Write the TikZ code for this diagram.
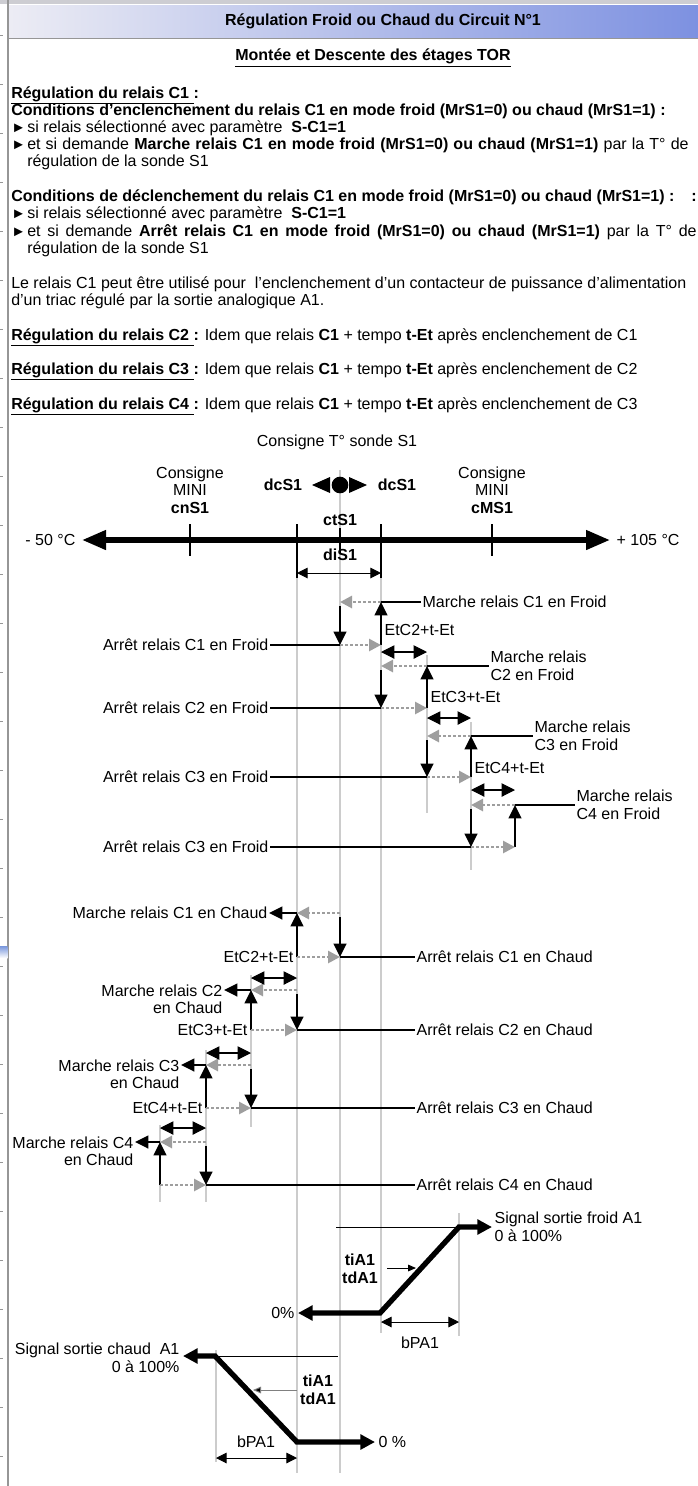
\documentclass[tikz,border=0pt]{standalone}
\usepackage{fontspec}
\setmainfont{Liberation Sans}
\usepackage{xcolor}
\usepackage{tikz}
\usetikzlibrary{positioning, arrows.meta}

\definecolor{refgray}{RGB}{204,204,204}
\definecolor{dotgray}{RGB}{158,158,158}
\definecolor{framegray}{RGB}{150,150,150}
\definecolor{topgray}{RGB}{205,205,210}
\definecolor{barlight}{RGB}{236,236,244}
\definecolor{barblue}{RGB}{125,145,225}
\definecolor{tabblue}{RGB}{120,150,220}

\newcommand{\puce}{\makebox[12pt][l]{\fontsize{11}{11}\selectfont ►}}

\begin{document}
\begin{tikzpicture}[x=0.75pt, y=-0.75pt,
  every node/.style={font=\fontsize{12}{13.2}\selectfont, inner sep=1pt},
  txt/.style={anchor=west, inner sep=0pt, text height=8.6pt, text depth=2.4pt},
  refline/.style={draw=refgray, line width=1.5pt},
  wire/.style={line width=1.7pt},
  stair/.style={line width=1.7pt, -{Triangle[length=10pt,width=9.5pt]}},
  grayarr/.style={draw=dotgray, line width=2pt, dash pattern=on 2.2pt off 1.6pt, -{Triangle[length=9pt,width=9pt]}},
  tempo/.style={line width=0.8pt, {Triangle[length=10pt,width=10pt]}-{Triangle[length=10pt,width=10pt]}},
  bparr/.style={line width=0.75pt, {Triangle[length=8pt,width=8pt]}-{Triangle[length=8pt,width=8pt]}},
  sig/.style={line width=4pt, line join=miter, {Triangle[length=11pt,width=11pt]}-{Triangle[length=11pt,width=11pt]}},
  fine/.style={line width=0.75pt}
]
  \useasboundingbox (0,0) rectangle (698,1486);
  \fill[white] (0,0) rectangle (698,1486);

  % bandeau et cadre
  \fill[topgray] (0,0) rectangle (698,4);
  \shade[left color=barlight, right color=barblue] (9,5) rectangle (698,38);
  \draw[framegray, line width=0.8pt] (9,38.5) -- (698,38.5);
  \draw[framegray, line width=1.2pt] (8,0) -- (8,1486);
  \foreach \t in {35,84,...,1480} \draw[framegray, line width=0.6pt] (0,\t) -- (3,\t);
  \shade[top color=tabblue, bottom color=white] (0,946) rectangle (7.4,958);

  % texte
  \node (ttl) at (383,21) {\textbf{Régulation Froid ou Chaud du Circuit N°1}};
  \node (sub) at (373,58) {\textbf{\underline{Montée et Descente des étages TOR}}};
  \node[txt] (r1) at (11,94) {\textbf{\underline{Régulation du relais C1~}:}};
  \node[txt] (c1) at (11,111) {\textbf{Conditions d’enclenchement du relais C1 en mode froid (MrS1=0) ou chaud (MrS1=1) :}};
  \node[txt] (b1) at (11,128) {\puce si relais sélectionné avec paramètre\ \ \textbf{S-C1=1}};
  \node[txt] (b2) at (11,145) {\makebox[508pt][s]{\puce et si demande \textbf{Marche relais C1 en mode froid (MrS1=0) ou chaud (MrS1=1)} par la T° de}};
  \node[txt] (b3) at (27,162) {régulation de la sonde S1};
  \node[txt] (c2) at (11,197) {\textbf{Conditions de déclenchement du relais C1 en mode froid (MrS1=0) ou chaud (MrS1=1) :}};
  \node[txt] (c2b) at (691,197) {\textbf{:}};
  \node[txt] (b4) at (11,214) {\puce si relais sélectionné avec paramètre\ \ \textbf{S-C1=1}};
  \node[txt] (b5) at (11,232) {\makebox[514pt][s]{\puce et si demande \textbf{Arrêt relais C1 en mode froid (MrS1=0) ou chaud (MrS1=1)} par la T° de}};
  \node[txt] (b6) at (27,249) {régulation de la sonde S1};
  \node[txt] (p1) at (11,284) {Le relais C1 peut être utilisé pour\ \ l’enclenchement d’un contacteur de puissance d’alimentation};
  \node[txt] (p2) at (11,301) {d’un triac régulé par la sortie analogique A1.};
  \node[txt] (r2) at (11,336) {\textbf{\underline{Régulation du relais C2~}:} Idem que relais \textbf{C1} + tempo \textbf{t-Et} après enclenchement de C1};
  \node[txt] (r3) at (11,370) {\textbf{\underline{Régulation du relais C3~}:} Idem que relais \textbf{C1} + tempo \textbf{t-Et} après enclenchement de C2};
  \node[txt] (r4) at (11,405) {\textbf{\underline{Régulation du relais C4~}:} Idem que relais \textbf{C1} + tempo \textbf{t-Et} après enclenchement de C3};

  % lignes de repere
  \draw[refline] (340,470) -- (340,1473);
  \draw[refline] (297,578) -- (297,1473);
  \draw[refline] (381,578) -- (381,1333);
  \draw[refline] (427,655) -- (427,813);
  \draw[refline] (471,722) -- (471,870);
  \draw[refline] (251,975) -- (251,1127);
  \draw[refline] (206,1050) -- (206,1202);
  \draw[refline] (160,1125) -- (160,1202);
  \draw[refline] (459,1213) -- (459,1336);
  \draw[refline] (216,1350) -- (216,1462);

  % echelle de temperature
  \node (cons) at (337,442) {Consigne T° sonde S1};
  \node (dcl) at (283,485) {\textbf{dcS1}};
  \node (dcr) at (397,485) {\textbf{dcS1}};
  \node[circle, fill=black, inner sep=0pt, minimum size=12.5pt] (dot) at (340,485) {};
  \fill (312,485) -- (330,477) -- (330,493) -- cycle;
  \fill (367,485) -- (349,477) -- (349,493) -- cycle;
  \node[align=center] (cmin) at (190,490) {Consigne\\MINI\\\textbf{cnS1}};
  \node[align=center] (cmax) at (492,490) {Consigne\\MINI\\\textbf{cMS1}};
  \node (ct) at (340,520) {\textbf{ctS1}};
  \node (di) at (340,555) {\textbf{diS1}};
  \node[anchor=east] (tmin) at (77,540) {- 50 °C};
  \node[anchor=west] (tmax) at (615,540) {+ 105 °C};
  \coordinate (axl) at (82,540);
  \coordinate (axr) at (610,540);
  \draw[line width=4pt, {Triangle[length=18pt,width=14pt]}-{Triangle[length=18pt,width=14pt]}] (axl) -- (axr);
  \draw[line width=1.5pt] (190,524) -- (190,556);
  \draw[line width=1.5pt] (297,524) -- (297,578);
  \draw[line width=1.5pt] (340,528) -- (340,553);
  \draw[line width=1.5pt] (381,524) -- (381,578);
  \draw[line width=1.5pt] (492,524) -- (492,556);
  \coordinate (dil) at (297,573);
  \coordinate (dir) at (381,573);
  \draw[bparr] (dil) -- (dir);

  % etages froid
  \coordinate (fM1) at (381,602); \coordinate (fm1) at (340,602);
  \coordinate (fA1) at (340,645); \coordinate (fa1) at (381,645);
  \coordinate (fM2) at (427,666); \coordinate (fm2) at (381,666);
  \coordinate (fA2) at (381,708); \coordinate (fa2) at (427,708);
  \coordinate (fM3) at (471,736); \coordinate (fm3) at (427,736);
  \coordinate (fA3) at (427,777); \coordinate (fa3) at (471,777);
  \coordinate (fM4) at (515,805); \coordinate (fm4) at (471,805);
  \coordinate (fA4) at (471,847); \coordinate (fa4) at (515,847);

  \node[anchor=west] (fML1) at (421,602) {Marche relais C1 en Froid};
  \node[anchor=west, align=left] (fML2) at (489,666) {Marche relais\\C2 en Froid};
  \node[anchor=west, align=left] (fML3) at (533,736) {Marche relais\\C3 en Froid};
  \node[anchor=west, align=left] (fML4) at (575,805) {Marche relais\\C4 en Froid};
  \node[anchor=east] (fAL1) at (270,645) {Arrêt relais C1 en Froid};
  \node[anchor=east] (fAL2) at (270,708) {Arrêt relais C2 en Froid};
  \node[anchor=east] (fAL3) at (270,777) {Arrêt relais C3 en Froid};
  \node[anchor=east] (fAL4) at (270,847) {Arrêt relais C3 en Froid};

  \draw[grayarr] (fM1) -- (fm1);
  \draw[wire] (fM1) -- (fML1.west);
  \draw[stair] (fa1) -- (fM1);
  \draw[stair] ([yshift=-3pt]fm1) -- (fA1);
  \draw[wire] (fAL1.east) -- (fA1);
  \draw[grayarr] (fA1) -- (fa1);

  \draw[grayarr] (fM2) -- (fm2);
  \draw[wire] (fM2) -- (fML2.west);
  \draw[stair] (fa2) -- (fM2);
  \draw[stair] ([yshift=-3pt]fm2) -- (fA2);
  \draw[wire] (fAL2.east) -- (fA2);
  \draw[grayarr] (fA2) -- (fa2);

  \draw[grayarr] (fM3) -- (fm3);
  \draw[wire] (fM3) -- (fML3.west);
  \draw[stair] (fa3) -- (fM3);
  \draw[stair] ([yshift=-3pt]fm3) -- (fA3);
  \draw[wire] (fAL3.east) -- (fA3);
  \draw[grayarr] (fA3) -- (fa3);

  \draw[grayarr] (fM4) -- (fm4);
  \draw[wire] (fM4) -- (fML4.west);
  \draw[stair] (fa4) -- (fM4);
  \draw[stair] ([yshift=-3pt]fm4) -- (fA4);
  \draw[wire] (fAL4.east) -- (fA4);
  \draw[grayarr] (fA4) -- (fa4);

  \node[anchor=west] (fT2) at (383,630) {EtC2+t-Et};
  \node[anchor=west] (fT3) at (429,697) {EtC3+t-Et};
  \node[anchor=west] (fT4) at (473,768) {EtC4+t-Et};
  \coordinate (fe1) at (381,652); \coordinate (fe2) at (427,652);
  \coordinate (fe3) at (427,718); \coordinate (fe4) at (471,718);
  \coordinate (fe5) at (471,790); \coordinate (fe6) at (515,790);
  \draw[tempo] (fe1) -- (fe2);
  \draw[tempo] (fe3) -- (fe4);
  \draw[tempo] (fe5) -- (fe6);

  % etages chaud
  \coordinate (cM1) at (297,913); \coordinate (cm1) at (340,913);
  \coordinate (cA1) at (340,957); \coordinate (ca1) at (297,957);
  \coordinate (cM2) at (251,990); \coordinate (cm2) at (297,990);
  \coordinate (cA2) at (297,1030); \coordinate (ca2) at (251,1030);
  \coordinate (cM3) at (206,1065); \coordinate (cm3) at (251,1065);
  \coordinate (cA3) at (251,1108); \coordinate (ca3) at (206,1108);
  \coordinate (cM4) at (160,1142); \coordinate (cm4) at (206,1142);
  \coordinate (cA4) at (206,1185); \coordinate (ca4) at (160,1185);

  \node[anchor=east] (cML1) at (269,913) {Marche relais C1 en Chaud};
  \node[anchor=north east, align=right] (cML2) at (224,983) {Marche relais C2\\en Chaud};
  \node[anchor=north east, align=right] (cML3) at (181,1058) {Marche relais C3\\en Chaud};
  \node[anchor=north east, align=right] (cML4) at (135,1135) {Marche relais C4\\en Chaud};
  \node[anchor=west] (cAL1) at (415,957) {Arrêt relais C1 en Chaud};
  \node[anchor=west] (cAL2) at (415,1030) {Arrêt relais C2 en Chaud};
  \node[anchor=west] (cAL3) at (415,1108) {Arrêt relais C3 en Chaud};
  \node[anchor=west] (cAL4) at (415,1185) {Arrêt relais C4 en Chaud};

  \draw[grayarr] (cm1) -- (cM1);
  \draw[stair] (cM1) -- (cM1 -| cML1.east);
  \draw[stair] (ca1) -- (cM1);
  \draw[stair] ([yshift=-3pt]cm1) -- (cA1);
  \draw[grayarr] (ca1) -- (cA1);
  \draw[wire] (cA1) -- (cAL1.west);

  \draw[grayarr] (cm2) -- (cM2);
  \draw[stair] (cM2) -- (cM2 -| cML2.east);
  \draw[stair] (ca2) -- (cM2);
  \draw[stair] ([yshift=-3pt]cm2) -- (cA2);
  \draw[grayarr] (ca2) -- (cA2);
  \draw[wire] (cA2) -- (cAL2.west);

  \draw[grayarr] (cm3) -- (cM3);
  \draw[stair] (cM3) -- (cM3 -| cML3.east);
  \draw[stair] (ca3) -- (cM3);
  \draw[stair] ([yshift=-3pt]cm3) -- (cA3);
  \draw[grayarr] (ca3) -- (cA3);
  \draw[wire] (cA3) -- (cAL3.west);

  \draw[grayarr] (cm4) -- (cM4);
  \draw[stair] (cM4) -- (cM4 -| cML4.east);
  \draw[stair] (ca4) -- (cM4);
  \draw[stair] ([yshift=-3pt]cm4) -- (cA4);
  \draw[grayarr] (ca4) -- (cA4);
  \draw[wire] (cA4) -- (cAL4.west);

  \node[anchor=east] (cT2) at (295,957) {EtC2+t-Et};
  \node[anchor=east] (cT3) at (249,1030) {EtC3+t-Et};
  \node[anchor=east] (cT4) at (204,1108) {EtC4+t-Et};
  \coordinate (ce1) at (251,978); \coordinate (ce2) at (297,978);
  \coordinate (ce3) at (206,1053); \coordinate (ce4) at (251,1053);
  \coordinate (ce5) at (160,1128); \coordinate (ce6) at (206,1128);
  \draw[tempo] (ce1) -- (ce2);
  \draw[tempo] (ce3) -- (ce4);
  \draw[tempo] (ce5) -- (ce6);

  % sortie analogique froid
  \coordinate (s0) at (298,1313); \coordinate (s1) at (380,1313);
  \coordinate (s2) at (459,1227); \coordinate (s3) at (492,1227);
  \coordinate (fh) at (336,1227);
  \draw[fine] (fh) -- (s2);
  \draw[sig] (s0) -- (s1) -- (s2) -- (s3);
  \node[anchor=east] (f0) at (296,1313) {0\%};
  \node[anchor=west, align=left] (fsig) at (493,1227) {Signal sortie froid A1\\0 à 100\%};
  \node[align=center] (fti) at (360,1269) {\textbf{tiA1}\\\textbf{tdA1}};
  \coordinate (fti0) at (387,1268); \coordinate (fti1) at (416,1268);
  \draw[fine, -{Triangle[length=6pt,width=5pt]}] (fti0) -- (fti1);
  \coordinate (fb0) at (381,1322); \coordinate (fb1) at (459,1322);
  \draw[bparr] (fb0) -- (fb1);
  \node (fbp) at (420,1343) {bPA1};

  % sortie analogique chaud
  \coordinate (h0) at (183,1356); \coordinate (h1) at (215,1356);
  \coordinate (h2) at (297,1442); \coordinate (h3) at (375,1442);
  \coordinate (ch) at (338,1356);
  \draw[fine] (h1) -- (ch);
  \draw[sig] (h0) -- (h1) -- (h2) -- (h3);
  \node[anchor=east, align=right] (csig) at (181,1358) {Signal sortie chaud\ \ A1\\0 à 100\%};
  \node[anchor=west] (c0) at (377,1442) {0 \%};
  \node[align=center] (cti) at (318,1390) {\textbf{tiA1}\\\textbf{tdA1}};
  \coordinate (cti0) at (297,1390); \coordinate (cti1) at (253,1390);
  \draw[fine, draw=gray, -{Triangle[length=6pt,width=5pt,fill=black]}] (cti0) -- (cti1);
  \coordinate (cb0) at (216,1458); \coordinate (cb1) at (297,1458);
  \draw[bparr] (cb0) -- (cb1);
  \node (cbp) at (256,1442) {bPA1};
\end{tikzpicture}
\end{document}
